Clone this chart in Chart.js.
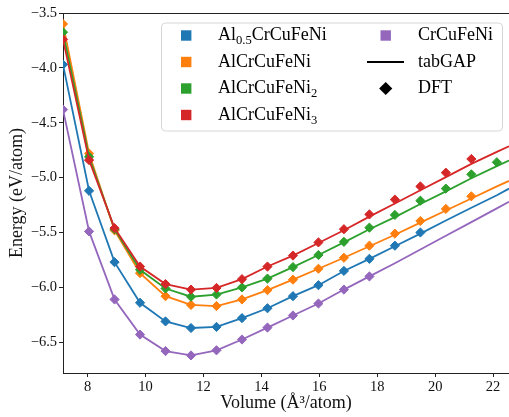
<!DOCTYPE html>
<html>
<head>
<meta charset="utf-8">
<script src="https://cdn.jsdelivr.net/npm/chart.js@4.4.0/dist/chart.umd.min.js"></script>
<style>
  html, body { margin: 0; padding: 0; background: #fff; }
  #wrap { width: 509px; height: 417px; position: relative; }
</style>
</head>
<body>
<div id="wrap"><canvas id="chart" width="509" height="417"></canvas></div>
<script>
// DFT volumes (A^3/atom)
const volumes = [7.15, 8.05, 8.93, 9.81, 10.69, 11.57, 12.45, 13.33, 14.21, 15.09, 15.97, 16.85, 17.73, 18.61, 19.49, 20.37, 21.25, 22.13];
// tabGAP curve volumes (last point runs past the axis edge)
const lineVolumes = volumes.concat([22.55]);

// DFT energies (eV/atom)
const dftAl05 = [-3.97, -5.12, -5.77, -6.14, -6.31, -6.37, -6.36, -6.28, -6.19, -6.08, -5.98, -5.85, -5.74, -5.62, -5.50];
const dftAl1 = [-3.60, -4.78, -5.48, -5.87, -6.08, -6.16, -6.17, -6.11, -6.025, -5.93, -5.83, -5.73, -5.62, -5.51, -5.395, -5.285, -5.17];
const dftNi2 = [-3.675, -4.81, -5.47, -5.84, -6.01, -6.085, -6.065, -6.00, -5.92, -5.815, -5.705, -5.585, -5.456, -5.34, -5.21, -5.10, -4.97, -4.86];
const dftNi3 = [-3.74, -4.84, -5.46, -5.81, -5.97, -6.02, -6.005, -5.925, -5.81, -5.71, -5.59, -5.47, -5.335, -5.20, -5.08, -4.955, -4.83];
const dftCr = [-4.38, -5.49, -6.11, -6.43, -6.58, -6.62, -6.573, -6.475, -6.366, -6.256, -6.147, -6.02, -5.90];

// tabGAP energies (eV/atom)
const gapAl05 = [-3.97, -5.12, -5.77, -6.14, -6.31, -6.37, -6.36, -6.28, -6.19, -6.08, -5.98, -5.85, -5.74, -5.625, -5.51, -5.39, -5.275, -5.16, -5.10];
const gapAl1 = [-3.60, -4.78, -5.48, -5.87, -6.08, -6.16, -6.17, -6.11, -6.025, -5.93, -5.83, -5.73, -5.625, -5.52, -5.41, -5.30, -5.19, -5.08, -5.03];
const gapNi2 = [-3.675, -4.81, -5.47, -5.84, -6.01, -6.085, -6.065, -6.00, -5.92, -5.815, -5.705, -5.59, -5.47, -5.36, -5.24, -5.125, -5.005, -4.895, -4.845];
const gapNi3 = [-3.74, -4.84, -5.46, -5.81, -5.97, -6.02, -6.005, -5.925, -5.81, -5.71, -5.595, -5.48, -5.355, -5.235, -5.115, -4.995, -4.875, -4.765, -4.715];
const gapCr = [-4.38, -5.49, -6.11, -6.43, -6.58, -6.62, -6.573, -6.475, -6.366, -6.256, -6.147, -6.02, -5.90, -5.78, -5.655, -5.53, -5.405, -5.28, -5.22];

const xTicks = [8, 10, 12, 14, 16, 18, 20, 22];
const yTicks = [-6.5, -6.0, -5.5, -5.0, -4.5, -4.0, -3.5];

// legend parts: [text, 'sub' or '']
const series = [
  { name: [['Al', ''], ['0.5', 'sub'], ['CrCuFeNi', '']], color: '#1f77b4', dft: dftAl05, gap: gapAl05 },
  { name: [['AlCrCuFeNi', '']], color: '#ff7f0e', dft: dftAl1, gap: gapAl1 },
  { name: [['AlCrCuFeNi', ''], ['2', 'sub']], color: '#2ca02c', dft: dftNi2, gap: gapNi2 },
  { name: [['AlCrCuFeNi', ''], ['3', 'sub']], color: '#d62728', dft: dftNi3, gap: gapNi3 },
  { name: [['CrCuFeNi', '']], color: '#9467bd', dft: dftCr, gap: gapCr },
];

const FONT = "'Liberation Serif', 'DejaVu Serif', serif";

const datasets = [];
series.forEach((s, i) => {
  const base = (series.length - i) * 2;
  datasets.push({
    label: 'tabGAP',
    data: s.gap.map((v, k) => ({ x: lineVolumes[k], y: v })),
    showLine: true,
    borderColor: s.color,
    borderWidth: 1.8,
    pointRadius: 0,
    order: base + 1,
  });
  datasets.push({
    label: 'DFT',
    data: s.dft.map((v, k) => ({ x: volumes[k], y: v })),
    showLine: false,
    backgroundColor: s.color,
    borderColor: s.color,
    borderWidth: 1,
    pointStyle: 'rectRot',
    pointRadius: 4.6,
    order: base,
  });
});

function drawRich(ctx, parts, x, y, size) {
  let cx = x;
  parts.forEach(([t, kind]) => {
    if (kind === 'sub') {
      ctx.font = (size * 0.7) + 'px ' + FONT;
      ctx.fillText(t, cx, y + size * 0.3);
    } else {
      ctx.font = size + 'px ' + FONT;
      ctx.fillText(t, cx, y);
    }
    cx += ctx.measureText(t).width;
  });
}

const legendPlugin = {
  id: 'eosLegend',
  afterDraw(chart) {
    const ctx = chart.ctx;
    const area = chart.chartArea;
    ctx.save();
    // top spine
    ctx.strokeStyle = '#222';
    ctx.lineWidth = 1;
    ctx.beginPath();
    ctx.moveTo(area.left, area.top + 0.5);
    ctx.lineTo(area.right, area.top + 0.5);
    ctx.stroke();

    // legend frame
    const bx = 161.5, by = 23, bw = 341, bh = 108;
    ctx.fillStyle = 'rgba(255,255,255,0.8)';
    ctx.strokeStyle = '#d6d6d6';
    ctx.beginPath();
    ctx.roundRect(bx, by, bw, bh, 4);
    ctx.fill();
    ctx.stroke();

    const rows = [35.5, 62, 88.5, 115];
    const size = 18;
    ctx.textBaseline = 'middle';
    ctx.textAlign = 'left';
    for (let r = 0; r < 4; r++) {
      const s = series[r];
      ctx.fillStyle = s.color;
      ctx.fillRect(181, rows[r] - 5.2, 10.4, 10.4);
      ctx.fillStyle = '#000';
      drawRich(ctx, s.name, 218, rows[r], size);
    }
    // right column
    ctx.fillStyle = series[4].color;
    ctx.fillRect(380.5, rows[0] - 5.2, 10.4, 10.4);
    ctx.fillStyle = '#000';
    drawRich(ctx, series[4].name, 418, rows[0], size);

    ctx.strokeStyle = '#000';
    ctx.lineWidth = 1.8;
    ctx.beginPath();
    ctx.moveTo(367, rows[1]);
    ctx.lineTo(404, rows[1]);
    ctx.stroke();
    drawRich(ctx, [['tabGAP', '']], 418, rows[1], size);

    ctx.beginPath();
    const dx = 385.7, dy = rows[2], d = 6.6;
    ctx.moveTo(dx, dy - d);
    ctx.lineTo(dx + d, dy);
    ctx.lineTo(dx, dy + d);
    ctx.lineTo(dx - d, dy);
    ctx.closePath();
    ctx.fill();
    drawRich(ctx, [['DFT', '']], 418, rows[2], size);
    ctx.restore();
  }
};

new Chart(document.getElementById('chart'), {
  type: 'scatter',
  data: { datasets },
  options: {
    responsive: false,
    animation: false,
    devicePixelRatio: 1,
    layout: { autoPadding: false, padding: { top: 13, right: 0, bottom: 0, left: 0 } },
    plugins: { legend: { display: false }, tooltip: { enabled: false } },
    scales: {
      x: {
        type: 'linear',
        min: 7.15,
        max: 22.55,
        afterBuildTicks: (scale) => { scale.ticks = xTicks.map((v) => ({ value: v })); },
        afterFit: (scale) => {
          scale.height = 44;
          scale.paddingLeft = 0;
          scale.paddingRight = 0;
        },
        grid: { drawOnChartArea: false, drawTicks: true, tickLength: 4, color: '#222' },
        border: { display: true, color: '#222', width: 1 },
        ticks: {
          color: '#111',
          padding: 1,
          maxRotation: 0,
          font: { family: FONT, size: 14.5 },
          callback: (v) => String(v),
        },
        title: {
          display: true,
          text: 'Volume (Å³/atom)',
          color: '#111',
          font: { family: FONT, size: 18 },
          padding: { top: 0, bottom: 3 },
        },
      },
      y: {
        type: 'linear',
        min: -6.78,
        max: -3.5,
        afterBuildTicks: (scale) => { scale.ticks = yTicks.map((v) => ({ value: v })); },
        afterFit: (scale) => { scale.width = 63; },
        grid: { drawOnChartArea: false, drawTicks: true, tickLength: 4, color: '#222' },
        border: { display: true, color: '#222', width: 1 },
        ticks: {
          color: '#111',
          padding: 2,
          font: { family: FONT, size: 14.5 },
          callback: (v) => '\u2212' + Math.abs(v).toFixed(1),
        },
        title: {
          display: true,
          text: 'Energy (eV/atom)',
          color: '#111',
          font: { family: FONT, size: 18 },
          padding: { top: 6, bottom: 0 },
        },
      },
    },
  },
  plugins: [legendPlugin],
});
</script>
</body>
</html>
